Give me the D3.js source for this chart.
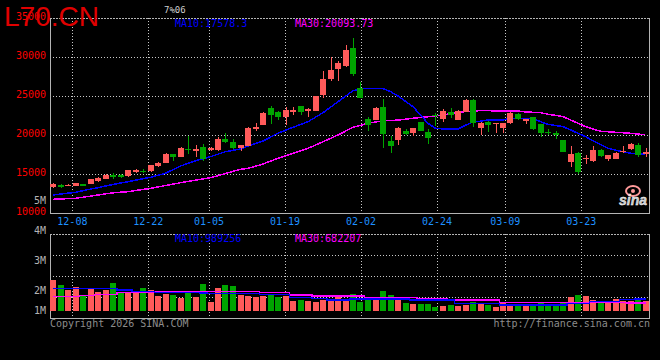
<!DOCTYPE html>
<html><head><meta charset="utf-8">
<script src="https://cdn.jsdelivr.net/npm/d3@7"></script>
<style>html,body{margin:0;padding:0;background:#000;}svg{display:block;}</style>
</head><body>
<svg id="c" width="660" height="360"></svg>
<script>
// ---- data ----
const symbol = "L70.CN";
const opens  = [13400,13680,13500,13550,13760,13760,14200,14450,14950,14950,14800,15350,15450,15420,16100,16500,17600,17260,18280,18020,
                18500,18120,18120,19530,19140,18330,18680,20810,21330,23460,22990,22300,22990,23720,23080,23160,25170,27220,28500,28930,
                31240,26110,22090,21966,23590,19273,19400,20556,20340,21710,20385,22600,22094,22990,22000,23035,24530,20983,21752,21500,
                20983,21540,22735,21795,22308,21453,20427,20342,19400,16580,17778,16900,16750,18120,16923,17008,17950,18205,18760,17564];
const closes = [13700,13330,13680,13850,13550,14400,14570,14950,14600,14600,15550,15600,15350,16190,16450,17600,17250,18410,18200,18280,
                16960,18370,19570,19140,18410,18750,20980,21070,22860,22600,22350,23250,23200,23030,23380,25040,27220,28380,29320,30940,
                27860,24830,21370,23505,20214,18632,20940,20214,20940,20556,19700,22500,23120,22564,23120,24530,21624,21624,21325,21580,
                21540,22906,22137,22052,20770,20256,20256,20000,17900,17607,15341,17100,18120,17350,17478,17778,18050,18890,17478,17906];
const highs  = [13850,13750,13750,13900,13800,14420,14700,15000,15200,15000,15580,15720,15620,16250,16580,17750,17650,18550,19950,18700,
                18900,18450,19800,20300,19530,18800,21100,21580,23000,23760,23100,23680,23630,23800,23450,25100,28250,30000,29530,31580,
                32440,26880,22300,23590,24660,19915,21025,20810,20980,21750,20770,22820,23376,23500,23200,24600,24600,21700,21800,21620,
                21600,22950,22800,22100,22350,21500,20770,20513,19450,18632,17800,17480,18632,18200,17500,17800,18632,19060,19060,18333];
const lows   = [13250,13280,13450,13500,13520,13700,13950,14400,14350,14480,14650,15220,15170,15300,15950,16400,16660,17200,17560,17200,
                16750,18000,18050,19000,18300,18000,18600,20600,21300,21450,21960,21320,22600,22650,22400,23100,24800,27000,26970,28800,
                27650,24830,20556,21900,18420,17780,18760,20040,19915,20500,18890,21240,21750,22180,21900,23000,21100,20043,20470,20340,
                20256,21400,22000,21453,20700,19744,20085,19573,17800,15982,15041,16325,16623,17250,16750,16950,17778,18150,17265,17265];
const volumes = [2580000,2170000,1750000,1970000,1330000,1810000,1580000,1750000,2330000,1610000,1610000,1530000,1920000,1750000,1280000,1420000,1330000,1110000,1470000,1140000,
                 2250000,780000,1920000,2170000,2080000,1330000,1250000,1190000,1250000,1390000,1190000,1250000,860000,920000,860000,780000,920000,1000000,1250000,920000,
                 1420000,780000,1030000,1030000,1670000,1330000,1060000,690000,580000,580000,600000,360000,420000,500000,420000,500000,780000,580000,500000,360000,
                 640000,580000,500000,440000,580000,750000,600000,530000,750000,1190000,1330000,1250000,920000,750000,830000,1000000,830000,830000,1000000,810000];
const ma10 = [12350,12460,12580,12690,12900,13100,13280,13500,13700,13880,14050,14250,14430,14615,14870,15130,15600,16060,16400,16740,
              17000,17256,17580,17900,18070,18244,18630,18950,19270,19760,20256,20640,21026,21380,21744,22320,22898,23600,24308,25010,
              25718,25950,26025,26025,26000,25600,25038,24350,23667,22600,21538,20897,20812,20812,20812,21280,21744,21800,21966,21966,
              21966,22180,22180,22180,22100,21750,21410,21260,21111,20700,20250,19830,19300,18800,18333,18100,17900,17700,17600,17578.3];
const ma30 = [11795,11840,11880,11923,12060,12200,12346,12490,12620,12700,12774,12920,13060,13205,13380,13560,13740,13923,14090,14250,
              14400,14564,14830,15100,15370,15641,15769,16040,16320,16690,17051,17370,17692,18010,18333,18750,19179,19600,20038,20530,
              21026,21280,21538,21700,21872,21910,21940,22060,22180,22280,22385,22490,22600,22780,22949,23030,23115,23160,23160,23120,
              23120,23120,23120,23000,22950,22900,22700,22550,22400,21966,21540,21111,20800,20520,20450,20385,20330,20256,20150,20093.73];
const volMa10 = [1890000,1890000,1890000,1890000,1890000,1890000,1890000,1890000,1880000,1750000,1750000,1610000,1610000,1610000,1560000,1560000,1560000,1560000,1560000,1560000,
                 1500000,1470000,1470000,1470000,1470000,1470000,1470000,1470000,1390000,1390000,1390000,1390000,1140000,1140000,1140000,1060000,1060000,920000,920000,920000,
                 1000000,1000000,1000000,1000000,1000000,1000000,1000000,1000000,920000,920000,920000,920000,920000,920000,640000,640000,640000,640000,640000,640000,
                 500000,500000,500000,500000,500000,500000,500000,500000,500000,640000,640000,640000,780000,780000,780000,780000,970000,970000,980000,989256];
const volMa30 = [1190000,1190000,1190000,1190000,1280000,1280000,1390000,1390000,1390000,1530000,1530000,1530000,1530000,1530000,1610000,1610000,1610000,1610000,1610000,1610000,
                 1610000,1610000,1610000,1610000,1610000,1610000,1610000,1610000,1530000,1530000,1530000,1530000,1330000,1330000,1330000,1250000,1250000,1250000,1250000,1250000,
                 1250000,1250000,1140000,1140000,1140000,1140000,1140000,1140000,1140000,1060000,1060000,1060000,1060000,920000,920000,920000,920000,920000,920000,920000,
                 720000,720000,720000,720000,690000,690000,690000,690000,690000,690000,690000,690000,690000,690000,690000,690000,690000,685000,683000,682207];
const dateLabels = ["12-08","12-22","01-05","01-19","02-02","02-24","03-09","03-23"];
const dateIndex  = [3,13,21,31,41,51,60,70];
const priceTicks = [35000,30000,25000,20000,15000,10000];
const volLabels  = ["4M","3M","2M","1M"];
const volLabelVals = [4,3,2,1];

// ---- colours ----
const UP = "#ff5a5a", DOWN = "#00a400", MA10C = "#0000ff", MA30C = "#ff00ff";
const GRID = "#c8c8c8", FRAME = "#b4b4b4";
const MONO = "'DejaVu Sans Mono', monospace";

const svg = d3.select("#c");
svg.append("rect").attr("width",660).attr("height",360).attr("fill","#000");

const n = closes.length;
const xc = d3.scaleLinear().domain([0, 80]).range([50, 650]);      // candle slots
const xg = d3.scaleLinear().domain([0, 79]).range([49.6, 649.6]);  // date grid
const y  = d3.scaleLinear().domain([10000, 35000]).range([213.3, 18.3]);
const vy = d3.scaleLinear().domain([0, 1000000]).range([311, 299]);
const vLab = d3.scaleLinear().domain([1, 2, 4]).range([314, 294, 234]);
const crisp = v => Math.round(v) + 0.5;

const g = svg.append("g").attr("shape-rendering","crispEdges");

// horizontal grid (price)
priceTicks.filter(t => t < 35000 && t > 10000).forEach(t => {
  g.append("line").attr("x1",50).attr("x2",650).attr("y1",crisp(y(t))).attr("y2",crisp(y(t)))
    .attr("stroke",GRID).attr("stroke-dasharray","1,2");
});
// volume grid
[0.25,0.5,0.75].forEach(f => {
  const yy = crisp(234 + 84*f);
  g.append("line").attr("x1",50).attr("x2",650).attr("y1",yy).attr("y2",yy)
    .attr("stroke",GRID).attr("stroke-dasharray","1,2");
});
// vertical grid
dateIndex.forEach(i => {
  const xx = crisp(xg(i));
  g.append("line").attr("x1",xx).attr("x2",xx).attr("y1",18).attr("y2",213).attr("stroke",GRID).attr("stroke-dasharray","1,2");
  g.append("line").attr("x1",xx).attr("x2",xx).attr("y1",234).attr("y2",320).attr("stroke",GRID).attr("stroke-dasharray","1,2");
});
// frames
g.append("line").attr("x1",50).attr("x2",650).attr("y1",18.5).attr("y2",18.5).attr("stroke",FRAME).attr("stroke-dasharray","2,1");
g.append("line").attr("x1",50).attr("x2",650).attr("y1",213.5).attr("y2",213.5).attr("stroke",FRAME);
g.append("line").attr("x1",50.5).attr("x2",50.5).attr("y1",18).attr("y2",214).attr("stroke",FRAME);
g.append("line").attr("x1",649.5).attr("x2",649.5).attr("y1",18).attr("y2",214).attr("stroke",FRAME);
g.append("line").attr("x1",50).attr("x2",650).attr("y1",234.5).attr("y2",234.5).attr("stroke",FRAME).attr("stroke-dasharray","2,1");
g.append("line").attr("x1",50).attr("x2",650).attr("y1",318.5).attr("y2",318.5).attr("stroke",FRAME);
g.append("line").attr("x1",50.5).attr("x2",50.5).attr("y1",234).attr("y2",319).attr("stroke",FRAME);
g.append("line").attr("x1",649.5).attr("x2",649.5).attr("y1",234).attr("y2",319).attr("stroke",FRAME);

// volume bars
const idx = d3.range(n);
const colorOf = i => closes[i] >= opens[i] ? UP : DOWN;
g.selectAll("rect.vol").data(idx).join("rect").attr("class","vol")
  .attr("x", i => Math.round(xc(i))).attr("width",6)
  .attr("y", i => Math.round(vy(volumes[i]))).attr("height", i => 311 - Math.round(vy(volumes[i])))
  .attr("fill", colorOf);

// volume MA lines
const vline = arr => d3.line().x((d,i) => xc(i) + 3).y(d => vy(d)).curve(d3.curveStep)(arr);
g.append("path").attr("d", vline(volMa30)).attr("fill","none").attr("stroke",MA30C).attr("stroke-width",1.5);
g.append("path").attr("d", vline(volMa10)).attr("fill","none").attr("stroke",MA10C).attr("stroke-width",1.5);

// price MA lines
const pline = arr => d3.line().x((d,i) => xc(i) + 3).y(d => y(d))(arr);
g.append("path").attr("d", pline(ma30)).attr("fill","none").attr("stroke",MA30C).attr("stroke-width",1.5);
g.append("path").attr("d", pline(ma10)).attr("fill","none").attr("stroke",MA10C).attr("stroke-width",1.5);

// candles
const cg = g.append("g");
idx.forEach(i => {
  const x0 = Math.round(xc(i));
  const col = colorOf(i);
  const top = Math.round(y(Math.max(opens[i], closes[i])));
  const bot = Math.round(y(Math.min(opens[i], closes[i])));
  cg.append("rect").attr("x", x0 + 3).attr("width", 1)
    .attr("y", Math.round(y(highs[i]))).attr("height", Math.max(1, Math.round(y(lows[i])) - Math.round(y(highs[i]))))
    .attr("fill", col);
  cg.append("rect").attr("x", x0).attr("width", 6).attr("y", top).attr("height", Math.max(1, bot - top)).attr("fill", col);
});

// axis labels
const t = svg.append("g").attr("font-family", MONO).attr("font-size", 10);
priceTicks.forEach(p => {
  t.append("text").attr("x",46).attr("y", y(p) + 2).attr("text-anchor","end").attr("fill","#ff0000").text(p);
});
t.append("text").attr("x",46).attr("y",204).attr("text-anchor","end").attr("fill","#b4b4b4").text("5M");
volLabels.forEach((l,k) => {
  t.append("text").attr("x",46).attr("y", vLab(volLabelVals[k])).attr("text-anchor","end").attr("fill","#b4b4b4").text(l);
});
dateLabels.forEach((l,k) => {
  t.append("text").attr("x", xg(dateIndex[k])).attr("y",225).attr("text-anchor","middle").attr("fill","#1e90ff").text(l);
});
// legends
t.append("text").attr("x",175).attr("y",27).attr("fill",MA10C).text("MA10:" + ma10[n-1].toFixed(1));
t.append("text").attr("x",295).attr("y",27).attr("fill",MA30C).text("MA30:" + ma30[n-1].toFixed(2));
t.append("text").attr("x",175).attr("y",242).attr("fill",MA10C).text("MA10:" + volMa10[n-1]);
t.append("text").attr("x",295).attr("y",242).attr("fill",MA30C).text("MA30:" + volMa30[n-1]);
// footer
t.append("text").attr("x",50).attr("y",327).attr("fill","#8c8c8c").text("Copyright 2026 SINA.COM");
t.append("text").attr("x",650).attr("y",327).attr("text-anchor","end").attr("fill","#8c8c8c").text("http://finance.sina.com.cn");
t.append("text").attr("x",164).attr("y",13).attr("font-size",9).attr("fill","#cfcfcf").text("7%06");

// sina watermark
const w = svg.append("g");
w.append("ellipse").attr("cx",633).attr("cy",191).attr("rx",7).attr("ry",5).attr("fill","none").attr("stroke","#ff9a9a").attr("stroke-width",2);
w.append("circle").attr("cx",633).attr("cy",191).attr("r",2).attr("fill","#ff9a9a");
w.append("text").attr("x",619).attr("y",205).attr("font-family","'Liberation Sans', Arial, sans-serif").attr("font-style","italic")
  .attr("font-weight","bold").attr("font-size",14).attr("fill","#c8c8c8").attr("stroke","#ffffff").attr("stroke-width",0.4).text("sina");

// title
svg.append("text").attr("x",4).attr("y",26).attr("font-family","'Liberation Sans', Arial, sans-serif")
  .attr("font-size",28).attr("fill","#e00000").text(symbol);
</script>
</body></html>
